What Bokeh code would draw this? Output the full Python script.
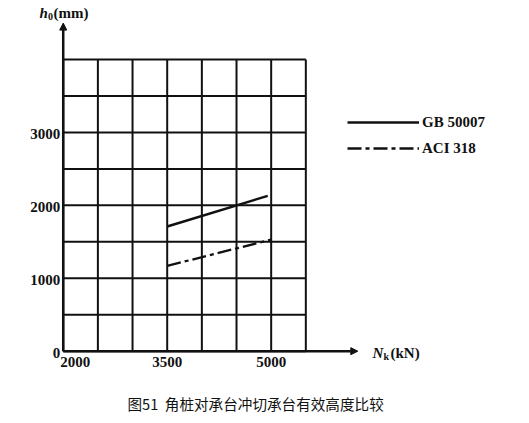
from bokeh.plotting import figure
from bokeh.models import Range1d, Arrow, NormalHead, Label, Legend, LegendItem
from bokeh.embed import file_html
from bokeh.resources import INLINE

# ---- data ----
x_ticks = [2000, 3500, 5000]
x_tick_labels = ["2000", "3500", "5000"]
y_ticks = [0, 1000, 2000, 3000]
y_tick_labels = ["0", "1000", "2000", "3000"]
grid_x = [2000, 2500, 3000, 3500, 4000, 4500, 5000, 5500]
grid_y = [0, 500, 1000, 1500, 2000, 2500, 3000, 3500, 4000]

gb_x = [3500, 4950]
gb_y = [1710, 2130]
aci_x = [3500, 5000]
aci_y = [1170, 1530]

W, H = 529, 423
p = figure(width=W, height=H, output_backend="svg", toolbar_location=None,
           x_range=Range1d(1095, 8727), y_range=Range1d(-992, 4810),
           min_border=0, outline_line_color=None)
p.axis.visible = False
p.grid.visible = False
p.background_fill_color = "white"
p.border_fill_color = "white"

INK = "#111111"
SERIF = "Liberation Serif"

# grid
p.segment(x0=grid_x, y0=[grid_y[0]] * len(grid_x), x1=grid_x, y1=[grid_y[-1]] * len(grid_x),
          line_color=INK, line_width=2)
p.segment(x0=[grid_x[0]] * len(grid_y), y0=grid_y, x1=[grid_x[-1]] * len(grid_y), y1=grid_y,
          line_color=INK, line_width=2)

# axes with arrows
p.add_layout(Arrow(x_start=grid_x[0], y_start=0, x_end=grid_x[0], y_end=4500,
                   line_color=INK, line_width=2.5,
                   end=NormalHead(size=7, fill_color=INK, line_color=INK)))
p.add_layout(Arrow(x_start=grid_x[0], y_start=0, x_end=6250, y_end=0,
                   line_color=INK, line_width=2.5,
                   end=NormalHead(size=7, fill_color=INK, line_color=INK)))

# data lines
gb = p.line(gb_x, gb_y, line_color=INK, line_width=2.5)
aci = p.line(aci_x, aci_y, line_color=INK, line_width=2.3, line_dash="14 4 4 4")

# tick labels
p.text(x=[grid_x[0]] * len(y_ticks), y=y_ticks, text=y_tick_labels,
       text_align="right", text_baseline="middle", x_offset=-3, y_offset=2,
       text_font=SERIF, text_font_size="15px", text_font_style="bold", text_color=INK)
p.text(x=x_ticks[:1], y=[0], text=x_tick_labels[:1],
       text_align="left", text_baseline="middle", x_offset=-3, y_offset=11,
       text_font=SERIF, text_font_size="15px", text_font_style="bold", text_color=INK)
p.text(x=x_ticks[1:], y=[0] * (len(x_ticks) - 1), text=x_tick_labels[1:],
       text_align="center", text_baseline="middle", x_offset=0, y_offset=11,
       text_font=SERIF, text_font_size="15px", text_font_style="bold", text_color=INK)

# legend
legend = Legend(items=[LegendItem(label="GB 50007", renderers=[gb]),
                       LegendItem(label="ACI 318", renderers=[aci])],
                location=(347, 265), glyph_width=72, glyph_height=20, label_height=20,
                spacing=6, padding=0, margin=0, label_standoff=3,
                border_line_color=None, background_fill_alpha=0,
                label_text_font=SERIF, label_text_font_size="15px",
                label_text_font_style="bold", label_text_color=INK)
p.add_layout(legend)

def lab(x, y, t, size="15px", style="bold", font=SERIF):
    p.add_layout(Label(x=x, y=y, x_units="screen", y_units="screen", text=t,
                       text_font=font, text_font_size=size, text_font_style=style,
                       text_baseline="middle", text_align="left", text_color=INK))

# y-axis title h0(mm)
lab(39, H - 12, "h", style="bold italic")
lab(47.5, H - 16, "0", size="10px")
lab(53, H - 12, "(mm)")
# x-axis title Nk(kN)
lab(372, H - 352, "N", style="bold italic")
lab(383, H - 356, "k", size="10px")
lab(390, H - 352, "(kN)")
# caption
lab(127, H - 403, "图51\u00a0\u00a0角桩对承台冲切承台有效高度比较", size="14.6px", style="normal",
    font="Noto Sans CJK SC")

open("out.html", "w").write(file_html(p, INLINE))
